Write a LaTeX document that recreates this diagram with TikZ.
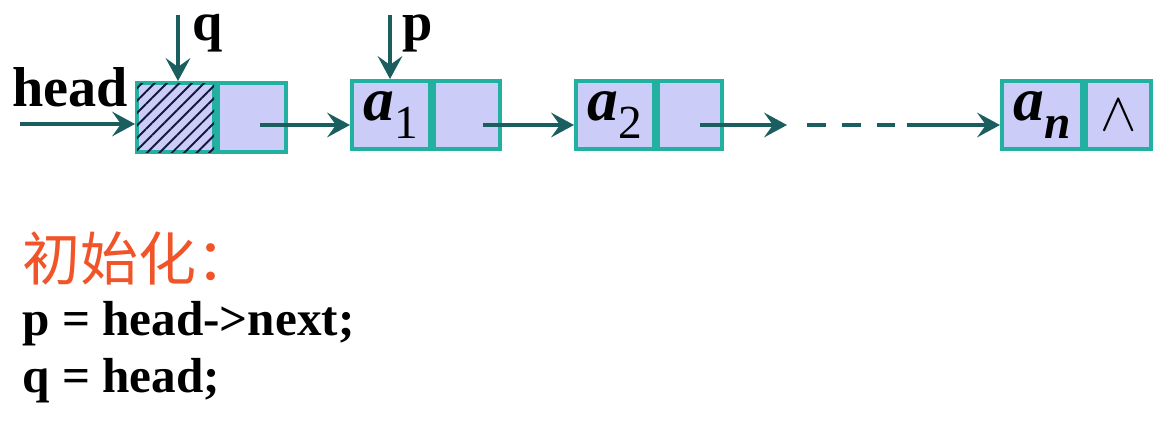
\documentclass[tikz,border=0pt]{standalone}
\usepackage{fontspec}
\usepackage{graphicx}
\setmainfont{Liberation Serif}
\newfontfamily\cjk{Noto Sans CJK SC}
\usetikzlibrary{arrows.meta,patterns.meta}
\definecolor{cellfill}{RGB}{204,204,248}
\definecolor{cellborder}{RGB}{34,176,160}
\definecolor{arrowc}{RGB}{26,94,96}
\definecolor{titlec}{RGB}{240,84,40}
\definecolor{hatchc}{RGB}{20,24,60}
\begin{document}
\begin{tikzpicture}[x=0.02cm,y=-0.02cm,
  cell/.style={draw=cellborder, line width=2.4pt, fill=cellfill, inner sep=0pt,
    anchor=north west, minimum height=1.36cm,
    font=\fontsize{35}{35}\selectfont\bfseries\itshape},
  hatched/.style={postaction={pattern={Lines[angle=45,distance=5pt,line width=1.1pt]},pattern color=hatchc}},
  link/.style={draw=arrowc, line width=2.4pt, -{Stealth[length=13pt,width=14pt,inset=5pt]}},
  seg/.style={draw=arrowc, line width=2.4pt},
  lbl/.style={inner sep=0pt, font=\fontsize{31}{31}\selectfont\bfseries},
  code/.style={inner sep=0pt, anchor=base west, font=\fontsize{28}{28}\selectfont\bfseries}]
\useasboundingbox (0,0) rectangle (1171,424);

% nodes
\node[cell, hatched, minimum width=1.54cm, minimum height=1.38cm] (hd) at (135,81) {};
\node[cell, minimum width=1.36cm, minimum height=1.38cm] (hp) at (hd.north east) {};
\node[cell, minimum width=1.56cm] (a1) at (350,79) {a\raisebox{-0.3em}{\fontsize{27}{27}\selectfont\upshape\mdseries 1}};
\node[cell, minimum width=1.32cm] (a1p) at (a1.north east) {};
\node[cell, minimum width=1.56cm] (a2) at (574,79) {a\raisebox{-0.3em}{\fontsize{27}{27}\selectfont\upshape\mdseries 2}};
\node[cell, minimum width=1.28cm] (a2p) at (a2.north east) {};
\node[cell, minimum width=1.60cm] (an) at (1000,79) {a\raisebox{-0.28em}{\fontsize{27}{27}\selectfont n}};
\node[cell, minimum width=1.30cm, font=\normalsize] (anp) at (an.north east) {\scalebox{3.1}{$\wedge$}};

% labels
\node[lbl, font=\fontsize{32}{32}\selectfont\bfseries] (headlbl) at (70,87) {head};
\node[lbl] (qlbl) at (208,33) {q};
\node[lbl] (plbl) at (418,33) {p};

% coordinates
\coordinate (hin) at (20,124);
\coordinate (qtop) at (178,15);
\coordinate (ptop) at (390,15);
\coordinate (s0) at (260,125);
\coordinate (s1) at (483,125);
\coordinate (s2) at (700,125);
\coordinate (m1) at (787,125);
\coordinate (d1) at (807,125);
\coordinate (d2) at (895,125);
\coordinate (s3) at (907,125);

% connectors
\draw[link] (hin) -- (hin -| hd.west);
\draw[link] (qtop) -- (qtop |- hd.north);
\draw[link] (ptop) -- (ptop |- a1.north);
\draw[link] (s0) -- (s0 -| a1.west);
\draw[link] (s1) -- (s1 -| a2.west);
\draw[link] (s2) -- (m1);
\draw[seg, dash pattern=on 11pt off 9pt] (d1) -- (d2);
\draw[link] (s3) -- (s3 -| an.west);

% text
\node[inner sep=0pt, anchor=base west, text=titlec, font=\cjk\fontsize{33}{33}\selectfont] (title) at (22,280) {初始化：};
\node[code] (c1) at (22,335) {p = head->next;};
\node[code] (c2) at (22,392) {q = head;};
\end{tikzpicture}
\end{document}
